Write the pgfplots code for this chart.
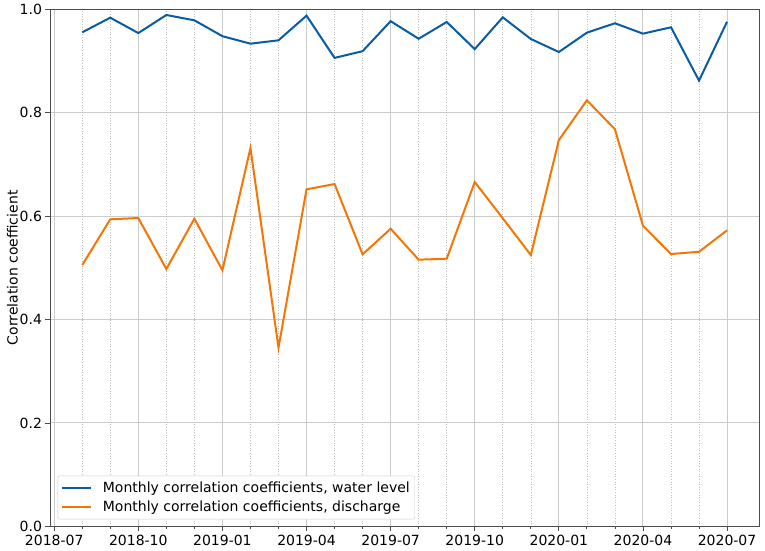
\documentclass[border=0pt]{standalone}
\usepackage{fontspec}
\setmainfont{DejaVu Sans}
\usepackage{pgfplots}
\pgfplotsset{compat=1.18}
\definecolor{wlblue}{RGB}{8,92,163}
\definecolor{qorange}{RGB}{245,117,5}
\newcommand{\f}{\fontsize{14}{16.5}\selectfont}
\begin{document}
\begin{tikzpicture}
\begin{axis}[
  at={(0,0)}, anchor=south west,
  scale only axis, width=709.3pt, height=517pt,
  xmin=-0.15, xmax=25.15, ymin=0, ymax=1.0,
  xtick={0,3,6,9,12,15,18,21,24},
  xticklabels={2018-07,2018-10,2019-01,2019-04,2019-07,2019-10,2020-01,2020-04,2020-07},
  minor x tick num=2,
  ytick={0,0.2,0.4,0.6,0.8,1.0},
  /pgf/number format/assume math mode=true,
  ticklabel style={font=\f},
  yticklabel style={/pgf/number format/.cd, fixed, fixed zerofill, precision=1},
  xticklabel style={yshift=-1pt},
  xtick pos=bottom, ytick pos=left,
  tick align=outside,
  major tick length=4.5pt, minor tick length=2.5pt,
  tick style={black!70, line width=0.8pt},
  axis line style={black!70, line width=0.8pt},
  grid=both,
  major grid style={black!20, line width=1pt},
  minor grid style={black!25, line width=0.6pt, dotted},
  ylabel={Correlation coefficient},
  ylabel style={font=\f, at={(axis description cs:-0.0529,0.5)}, anchor=center},
  legend cell align=left,
  legend image code/.code={\draw[#1] (0pt,0pt) -- (29pt,0pt);},
  legend style={at={(axis description cs:0,0)}, anchor=south west,
    xshift=7.7pt, yshift=7pt, draw=black!20, rounded corners=2pt, fill=white,
    font=\f, inner xsep=3pt, inner ysep=4.5pt, column sep=9pt, row sep=2pt,
    nodes={inner sep=2pt}},
]
\addplot[wlblue, line width=2pt] coordinates {
(1,0.9555)(2,0.9838)(3,0.954)(4,0.989)(5,0.9787)(6,0.948)(7,0.9335)(8,0.940)
(9,0.9877)(10,0.906)(11,0.919)(12,0.977)(13,0.943)(14,0.9755)(15,0.923)(16,0.9845)
(17,0.9426)(18,0.9174)(19,0.9548)(20,0.973)(21,0.9529)(22,0.9652)(23,0.862)(24,0.976)
};
\addlegendentry{Monthly correlation coefficients, water level}
\addplot[qorange, line width=2pt] coordinates {
(1,0.5054)(2,0.5938)(3,0.5963)(4,0.4977)(5,0.595)(6,0.4952)(7,0.7317)(8,0.3455)
(9,0.6518)(10,0.662)(11,0.526)(12,0.5755)(13,0.5157)(14,0.5176)(15,0.666)(16,0.5957)
(17,0.5248)(18,0.747)(19,0.824)(20,0.768)(21,0.5815)(22,0.5267)(23,0.531)(24,0.5725)
};
\addlegendentry{Monthly correlation coefficients, discharge}
\end{axis}
\pgfresetboundingbox
\path[use as bounding box] (-50pt,-23.7pt) rectangle (715pt,526.3pt);
\end{tikzpicture}
\end{document}
